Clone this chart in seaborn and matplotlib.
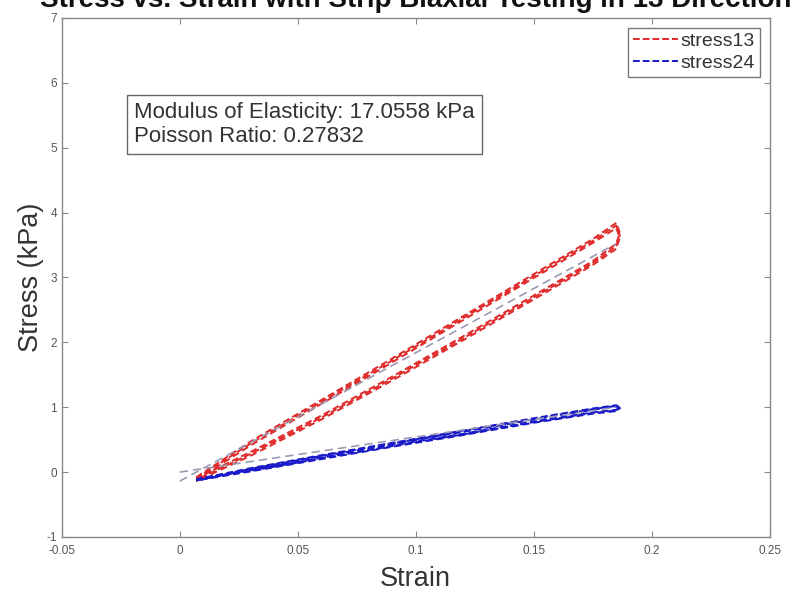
import matplotlib
matplotlib.use("Agg")
import matplotlib.pyplot as plt
import seaborn as sns
import pandas as pd

# strain sample points along each branch of the loop
strain_pts = [0.007, 0.03, 0.06, 0.09, 0.12, 0.15, 0.175, 0.185]
tip_strain = 0.1865

# stress13 (kPa), three load/unload cycles
s13_load = [
    [-0.10, 0.44, 1.08, 1.72, 2.37, 3.02, 3.56, 3.80],
    [-0.08, 0.47, 1.11, 1.75, 2.40, 3.05, 3.59, 3.84],
    [-0.12, 0.41, 1.05, 1.69, 2.34, 2.99, 3.53, 3.76],
]
s13_unload = [
    [-0.12, 0.28, 0.84, 1.44, 2.06, 2.69, 3.22, 3.48],
    [-0.10, 0.31, 0.87, 1.47, 2.09, 2.72, 3.25, 3.52],
    [-0.14, 0.25, 0.81, 1.41, 2.03, 2.66, 3.19, 3.44],
]
s13_tip = [3.65, 3.69, 3.61]

# stress24 (kPa), three cycles
s24_load = [
    [-0.12, 0.05, 0.25, 0.44, 0.63, 0.82, 0.97, 1.02],
    [-0.11, 0.06, 0.26, 0.45, 0.64, 0.83, 0.98, 1.03],
    [-0.13, 0.04, 0.24, 0.43, 0.62, 0.81, 0.96, 1.01],
]
s24_unload = [
    [-0.12, 0.02, 0.21, 0.40, 0.58, 0.77, 0.91, 0.95],
    [-0.11, 0.03, 0.22, 0.41, 0.59, 0.78, 0.92, 0.96],
    [-0.13, 0.01, 0.20, 0.39, 0.57, 0.76, 0.90, 0.94],
]
s24_tip = [0.99, 1.00, 0.98]

# linear fits
fit_strain = [0.0, 0.185]
fit13 = [-0.14, 3.52]
fit24 = [0.0, 1.0]

xticks = [-0.05, 0, 0.05, 0.1, 0.15, 0.2, 0.25]
xticklabels = ["-0.05", "0", "0.05", "0.1", "0.15", "0.2", "0.25"]
yticks = [-1, 0, 1, 2, 3, 4, 5, 6, 7]

title = "Stress vs. Strain with Strip Biaxial Testing in 13 Direction"
info = "Modulus of Elasticity: 17.0558 kPa\nPoisson Ratio: 0.27832"


def loop_frame(load, tip, unload):
    x = strain_pts + [tip_strain] + strain_pts[::-1]
    y = load + [tip] + unload[::-1]
    return pd.DataFrame({"strain": x, "stress": y})


sns.set_style("white")
plt.rcParams["font.family"] = ["Liberation Sans", "DejaVu Sans"]
plt.rcParams["axes.unicode_minus"] = False

fig = plt.figure(figsize=(7.91, 5.95), dpi=100)
ax = fig.add_axes([0.078, 0.0975, 0.895, 0.8725])

red = "#e02a2a"
blue = "#1a1ac8"
fitc = "#9a9ab4"

for i in range(3):
    d = loop_frame(s13_load[i], s13_tip[i], s13_unload[i])
    sns.lineplot(data=d, x="strain", y="stress", sort=False, estimator=None,
                 color=red, lw=1.4, ax=ax,
                 label="stress13" if i == 0 else None)
    ax.lines[-1].set_dashes((3.5, 1.5 + i * 0.3))
for i in range(3):
    d = loop_frame(s24_load[i], s24_tip[i], s24_unload[i])
    sns.lineplot(data=d, x="strain", y="stress", sort=False, estimator=None,
                 color=blue, lw=1.4, ax=ax,
                 label="stress24" if i == 0 else None)
    ax.lines[-1].set_dashes((3.5, 1.5 + i * 0.3))

sns.lineplot(x=fit_strain, y=fit13, color=fitc, lw=1.2, ax=ax)
ax.lines[-1].set_dashes((5, 3))
sns.lineplot(x=fit_strain, y=fit24, color=fitc, lw=1.2, ax=ax)
ax.lines[-1].set_dashes((5, 3))

ax.set_xlim(-0.05, 0.25)
ax.set_ylim(-1, 7)
ax.set_xticks(xticks)
ax.set_xticklabels(xticklabels)
ax.set_yticks(yticks)
ax.tick_params(direction="in", length=4, width=0.8, colors="#888888",
               labelcolor="#555555", labelsize=8.5, top=True, right=True,
               bottom=True, left=True)
ax.tick_params(axis="x", pad=6)
for s in ax.spines.values():
    s.set_color("#888888")
    s.set_linewidth(1.0)

ax.set_xlabel("Strain", fontsize=19.5, color="#333333", labelpad=6)
ax.set_ylabel("Stress (kPa)", fontsize=19.5, color="#333333", labelpad=2)

leg = ax.legend(loc="upper right", bbox_to_anchor=(0.986, 0.981), fontsize=14,
                handlelength=2.3, handletextpad=0.15, borderpad=0.25,
                labelspacing=0.2, borderaxespad=0, fancybox=False,
                framealpha=1, edgecolor="#777777")
leg.get_frame().set_linewidth(1.0)
for t in leg.get_texts():
    t.set_color("#333333")

ax.text(0.102, 0.838, info, transform=ax.transAxes, fontsize=16,
        color="#333333", va="top", ha="left", linespacing=1.17,
        bbox=dict(boxstyle="square,pad=0.33", fc="white", ec="#666666", lw=1.0))

fig.text(0.526, 1 - 7 / 595, title, ha="center", va="baseline",
         fontsize=20, fontweight="bold", color="#111111")

fig.savefig("out.png", dpi=100)
